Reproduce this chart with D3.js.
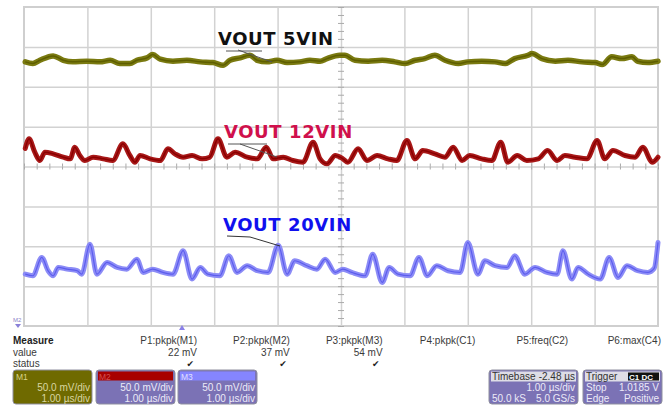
<!DOCTYPE html>
<html><head><meta charset="utf-8">
<script src="https://cdn.jsdelivr.net/npm/d3@7"></script>
<style>
html,body{margin:0;padding:0;background:#fff;}
svg{display:block;}
</style></head>
<body>
<svg id="c" width="670" height="406"></svg>
<script>
// ---- data (time in µs, value in mV on screen, 50 mV/div) ----
const m1Time = [0.02,0.14,0.25,0.46,0.62,0.77,0.99,1.20,1.36,1.51,1.67,1.78,1.94,2.03,2.15,2.35,2.57,2.78,2.98,3.14,3.25,3.41,3.56,3.68,3.83,3.99,4.15,4.35,4.51,4.67,4.78,4.98,5.06,5.22,5.43,5.65,5.85,6.01,6.17,6.32,6.48,6.64,6.85,7.00,7.22,7.43,7.59,7.74,7.95,8.01,8.17,8.38,8.58,8.80,9.01,9.12,9.27,9.43,9.59,9.68,9.84,10.0];
const m1Values = [131.2,129.1,133.2,138.7,133.2,131.2,132.0,131.2,133.2,129.1,129.1,133.2,136.2,140.3,134.5,132.0,133.2,131.2,130.3,126.9,133.2,136.2,139.5,133.2,131.2,133.2,130.3,131.2,133.2,132.0,135.3,139.5,139.5,133.2,132.0,133.2,131.2,129.1,133.2,135.3,139.5,133.2,129.1,131.2,132.0,131.2,129.1,135.3,139.5,141.6,135.3,132.0,133.2,131.2,130.3,127.8,137.5,135.3,137.5,132.0,130.3,132.0];

const m2Time = [0.02,0.08,0.17,0.25,0.33,0.46,0.62,0.73,0.80,0.88,0.96,1.09,1.25,1.40,1.56,1.67,1.75,1.83,1.99,2.15,2.27,2.38,2.51,2.65,2.81,2.93,3.06,3.20,3.33,3.52,3.68,3.82,3.93,4.09,4.24,4.40,4.56,4.67,4.78,4.91,5.03,5.11,5.27,5.41,5.57,5.74,5.88,6.04,6.17,6.29,6.48,6.64,6.77,6.91,7.03,7.22,7.38,7.52,7.63,7.78,7.93,8.11,8.26,8.41,8.53,8.69,8.88,9.04,9.16,9.29,9.48,9.64,9.76,9.91,10.0];
const m2Values = [22.6,34.7,17.9,7.5,17.9,15.9,11.7,9.6,24.2,13.8,7.5,11.7,9.6,7.5,28.4,13.8,5.4,13.8,9.6,7.5,22.2,15.9,11.7,13.8,9.6,11.7,34.7,11.7,17.9,11.7,9.6,24.2,9.6,11.7,7.5,5.4,30.5,9.6,3.4,13.8,9.6,5.4,22.2,7.5,13.8,9.6,7.5,32.6,9.6,20.0,15.9,11.7,24.2,7.5,13.8,9.6,7.5,30.5,5.4,13.8,7.5,9.6,20.0,7.5,13.8,11.7,9.6,32.6,9.6,20.0,13.8,11.7,24.2,5.4,11.7];

const m3Time = [0.02,0.14,0.28,0.38,0.46,0.54,0.68,0.84,0.91,1.04,1.15,1.31,1.47,1.62,1.78,1.88,2.03,2.19,2.35,2.51,2.65,2.78,2.90,3.09,3.23,3.36,3.52,3.68,3.85,4.01,4.15,4.27,4.46,4.62,4.75,4.91,5.03,5.17,5.38,5.50,5.65,5.76,5.90,6.09,6.23,6.36,6.51,6.69,6.88,7.00,7.16,7.27,7.43,7.62,7.74,7.90,8.06,8.25,8.41,8.50,8.64,8.74,8.90,9.09,9.23,9.37,9.51,9.68,9.84,9.94,10.0];
const m3Values = [-135.0,-137.0,-114.0,-130.7,-137.0,-126.6,-128.7,-130.7,-135.0,-97.4,-135.0,-120.3,-126.6,-128.7,-116.2,-132.8,-128.7,-132.8,-135.0,-105.6,-141.2,-126.6,-135.0,-137.0,-111.9,-132.8,-124.4,-130.7,-132.8,-98.6,-135.0,-118.2,-124.4,-128.7,-116.2,-132.8,-128.7,-132.8,-137.0,-109.9,-145.4,-126.6,-135.0,-137.0,-114.0,-137.0,-124.4,-130.7,-132.8,-95.2,-135.0,-118.2,-124.4,-126.6,-111.9,-135.0,-126.6,-132.8,-135.0,-105.6,-141.2,-126.6,-135.0,-141.2,-114.0,-139.1,-124.4,-130.7,-132.8,-127.8,-95.2];

const traceLabels = ["VOUT 5VIN","VOUT 12VIN","VOUT 20VIN"];
const measureNames = ["P1:pkpk(M1)","P2:pkpk(M2)","P3:pkpk(M3)","P4:pkpk(C1)","P5:freq(C2)","P6:max(C4)"];
const measureValues = ["22 mV","37 mV","54 mV","","",""];
const measureStatus = [true,true,true,false,false,false];
const mathNames = ["M1","M2","M3"];
const mathVdiv = ["50.0 mV/div","50.0 mV/div","50.0 mV/div"];
const mathTdiv = ["1.00 µs/div","1.00 µs/div","1.00 µs/div"];
const timebaseText = ["Timebase","-2.48 µs","1.00 µs/div","50.0 kS","5.0 GS/s"];
const triggerText = ["Trigger","Stop","1.0185 V","Edge","Positive"];

// ---- drawing ----
const svg = d3.select("#c");
const x = d3.scaleLinear().domain([0,10]).range([24,658]);
const y = d3.scaleLinear().domain([-200,200]).range([326,7]);

const plot = svg.append("g");
plot.append("rect").attr("x",x(0)).attr("y",y(200)).attr("width",x(10)-x(0)).attr("height",y(-200)-y(200))
  .attr("fill","#fff").attr("stroke","#cfcfcf").attr("stroke-width",2);

// grid
const gx = plot.append("g").attr("transform",`translate(0,${y(-200)})`)
  .call(d3.axisBottom(x).tickValues(d3.range(1,10)).tickSize(-(y(-200)-y(200))).tickFormat(""));
const gy = plot.append("g").attr("transform",`translate(${x(0)},0)`)
  .call(d3.axisLeft(y).tickValues(d3.range(-150,200,50)).tickSize(-(x(10)-x(0))).tickFormat(""));
[gx,gy].forEach(g=>{g.select(".domain").remove();g.selectAll("line").attr("stroke","#d2d2d2").attr("stroke-width",1.5);});

// minor ticks on center cross
const minorX = d3.range(0,10.001,0.2);
const minorY = d3.range(-200,200.001,10);
[d3.axisTop, d3.axisBottom].forEach(ax=>{
  const g = plot.append("g").attr("transform",`translate(0,${y(0)})`).call(ax(x).tickValues(minorX).tickSize(3).tickFormat(""));
  g.select(".domain").remove(); g.selectAll("line").attr("stroke","#aaa");
});
[d3.axisLeft, d3.axisRight].forEach(ax=>{
  const g = plot.append("g").attr("transform",`translate(${x(5)},0)`).call(ax(y).tickValues(minorY).tickSize(3).tickFormat(""));
  g.select(".domain").remove(); g.selectAll("line").attr("stroke","#aaa");
});

// traces
const line = d3.line().x(d=>x(d[0])).y(d=>y(d[1])).curve(d3.curveMonotoneX);
function trace(t,v,band,core,wb,wc){
  const pts = t.map((d,i)=>[d,v[i]]);
  plot.append("path").attr("d",line(pts)).attr("fill","none").attr("stroke",band).attr("stroke-width",wb).attr("stroke-linejoin","round").attr("stroke-linecap","round");
  plot.append("path").attr("d",line(pts)).attr("fill","none").attr("stroke",core).attr("stroke-width",wc).attr("stroke-linejoin","round");
}
trace(m1Time,m1Values,"#7a7a10","#5e5e00",5.5,1.5);
trace(m2Time,m2Values,"#a81818","#8a0000",5,1.5);
trace(m3Time,m3Values,"#8c8cf6","#5c5cee",5,1.2);

// leader lines
const ll = plot.append("g").attr("stroke","#333").attr("stroke-width",1).attr("fill","none");
ll.append("path").attr("d",`M226,51 L262,51 M238,50 L272,62`).attr("stroke","#555");
ll.append("path").attr("d",`M228,144 L267,144 M240,144 L277,157`).attr("stroke","#555");
ll.append("path").attr("d",`M227,236 L250,237 L280,246`);

// labels
const labCol = ["#111","#d0104c","#1010ee"];
const labPos = [[218,45],[224,138],[223,231]];
traceLabels.forEach((s,i)=>{
  svg.append("text").attr("x",labPos[i][0]).attr("y",labPos[i][1]).text(s)
    .attr("font-family","DejaVu Sans").attr("font-weight","bold").attr("font-size",18)
    .attr("letter-spacing",0.6).attr("fill",labCol[i]);
});

// small markers
svg.append("text").attr("x",13).attr("y",322).text("M2").attr("font-family","Liberation Sans").attr("font-size",6).attr("fill","#8a7fc8");
svg.append("path").attr("d","M15,324 L21,324 L18,328 Z").attr("fill","#8a80d8");
svg.append("path").attr("d","M179,330 L185,330 L182,325 Z").attr("fill","#8a80e8");

// measure table
const font = "Liberation Sans";
const tcol = "#3a3a3a";
const colRight = measureNames.map((d,i)=>197 + i*92.8);
svg.append("text").attr("x",13).attr("y",344).text("Measure").attr("font-family",font).attr("font-weight","bold").attr("font-size",10).attr("fill","#222");
svg.append("text").attr("x",13).attr("y",356).text("value").attr("font-family",font).attr("font-size",10).attr("fill",tcol);
svg.append("text").attr("x",13).attr("y",367).text("status").attr("font-family",font).attr("font-size",10).attr("fill",tcol);
measureNames.forEach((s,i)=>{
  svg.append("text").attr("x",colRight[i]).attr("y",344).attr("text-anchor","end").text(s).attr("font-family",font).attr("font-size",10).attr("fill",tcol);
  if(measureValues[i]) svg.append("text").attr("x",colRight[i]).attr("y",356).attr("text-anchor","end").text(measureValues[i]).attr("font-family",font).attr("font-size",10).attr("fill",tcol);
  if(measureStatus[i]) svg.append("text").attr("x",colRight[i]-3).attr("y",367).attr("text-anchor","end").text("✔").attr("font-family","DejaVu Sans").attr("font-size",9).attr("fill","#222");
});

// math boxes
const boxX = [13,96,178];
const boxW = 79;
const headFill = [null,"#a80000","#8585ff"];
mathNames.forEach((s,i)=>{
  const g = svg.append("g");
  g.append("rect").attr("x",boxX[i]).attr("y",370).attr("width",boxW).attr("height",34).attr("rx",3)
    .attr("fill", i===0 ? "#6f6a00" : "#7b72b5").attr("stroke","#8f8f9f").attr("stroke-width",1);
  if(headFill[i]) g.append("rect").attr("x",boxX[i]+2).attr("y",371.5).attr("width",boxW-4).attr("height",9).attr("fill",headFill[i]);
  g.append("text").attr("x",boxX[i]+3).attr("y",379.5).text(s).attr("font-family",font).attr("font-size",8.5)
    .attr("fill", i===0 ? "#d8d48a" : (i===1 ? "#d05050" : "#e0e0ff"));
  const tc = i===0 ? "#d9d6a0" : "#eceaf8";
  g.append("text").attr("x",boxX[i]+boxW-2).attr("y",391).attr("text-anchor","end").text(mathVdiv[i]).attr("font-family",font).attr("font-size",10).attr("fill",tc);
  g.append("text").attr("x",boxX[i]+boxW-2).attr("y",402).attr("text-anchor","end").text(mathTdiv[i]).attr("font-family",font).attr("font-size",10).attr("fill",tc);
});

// timebase / trigger boxes
function infoBox(x0,w,head,headRight,rows,badge){
  const g = svg.append("g");
  g.append("rect").attr("x",x0).attr("y",370).attr("width",w).attr("height",34).attr("rx",3).attr("fill","#7b72b5").attr("stroke","#8f8f9f");
  g.append("rect").attr("x",x0+2).attr("y",371.5).attr("width",w-4).attr("height",10).attr("fill","#dedde6");
  g.append("text").attr("x",x0+3).attr("y",380).text(head).attr("font-family",font).attr("font-size",10).attr("fill","#333");
  if(headRight) g.append("text").attr("x",x0+w-3).attr("y",380).attr("text-anchor","end").text(headRight).attr("font-family",font).attr("font-size",10).attr("fill","#333");
  if(badge){
    g.append("rect").attr("x",x0+w-34).attr("y",372.5).attr("width",31).attr("height",8).attr("fill","#111");
    g.append("text").attr("x",x0+w-33).attr("y",379.5).text(badge).attr("font-family",font).attr("font-weight","bold").attr("font-size",8).attr("fill","#fff");
  }
  rows.forEach((r,j)=>{
    if(r[0]) g.append("text").attr("x",x0+3).attr("y",391+j*11).text(r[0]).attr("font-family",font).attr("font-size",10).attr("fill","#eceaf8");
    if(r[1]) g.append("text").attr("x",x0+w-3).attr("y",391+j*11).attr("text-anchor","end").text(r[1]).attr("font-family",font).attr("font-size",10).attr("fill","#eceaf8");
  });
}
infoBox(489,89,timebaseText[0],timebaseText[1],[["",timebaseText[2]],[timebaseText[3],timebaseText[4]]],null);
infoBox(583,79,triggerText[0],null,[[triggerText[1],triggerText[2]],[triggerText[3],triggerText[4]]],"C1 DC");
</script>
</body></html>
